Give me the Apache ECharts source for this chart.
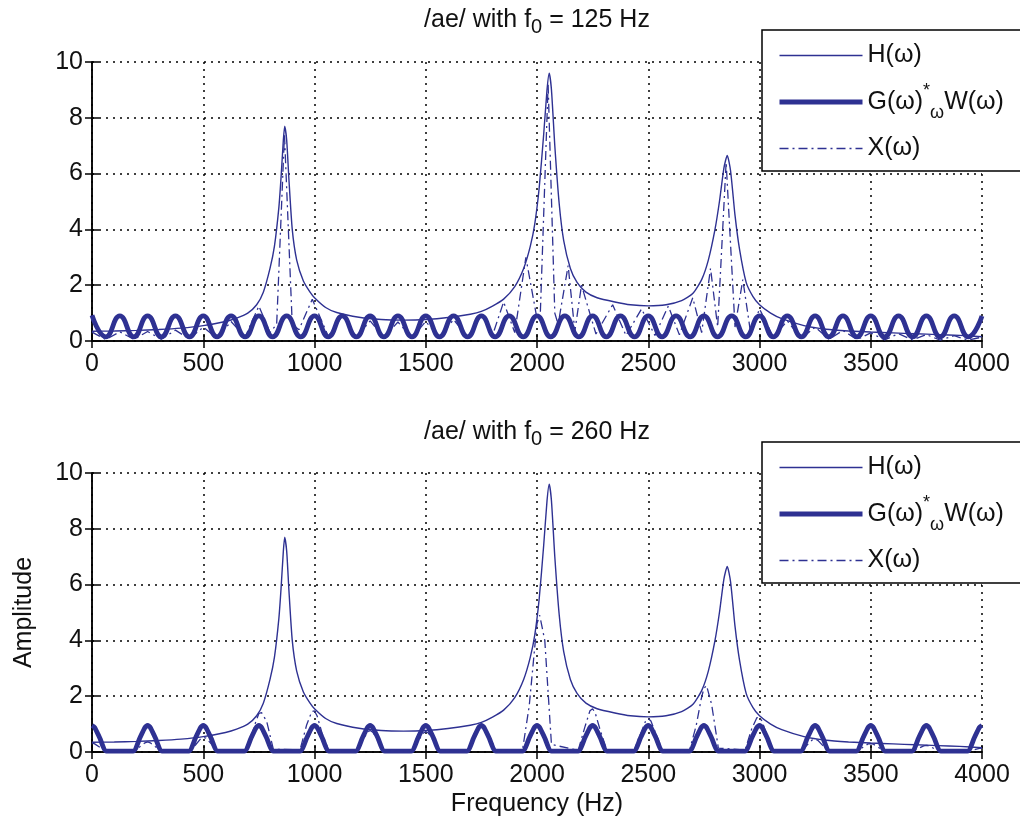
<!DOCTYPE html>
<html>
<head>
<meta charset="utf-8">
<script src="https://cdn.jsdelivr.net/npm/echarts@6/dist/echarts.min.js"></script>
<style>
  html, body { margin: 0; padding: 0; background: #fff; }
  #chart { width: 1020px; height: 826px; }
</style>
</head>
<body>
<div id="chart"></div>
<script>
// tick values
const xTicks = [0, 500, 1000, 1500, 2000, 2500, 3000, 3500, 4000];
const yTicks = [0, 2, 4, 6, 8, 10];

// H(w), the vocal tract response (same in both panels)
const hFreq = [0, 100, 200, 300, 400, 500, 600, 650, 700, 740, 770, 800, 820, 840, 850, 860,
  866, 875, 885, 900, 920, 950, 980, 1000, 1050, 1100, 1200, 1300, 1400, 1500, 1600,
  1700, 1750, 1800, 1850, 1900, 1940, 1970, 1990, 2010, 2030, 2045, 2055, 2065, 2080, 2100,
  2120, 2150, 2180, 2220, 2270, 2350, 2420, 2500, 2580, 2650, 2700, 2740, 2770, 2800, 2820,
  2840, 2855, 2870, 2890, 2910, 2940, 2970, 3000, 3050, 3100, 3200, 3300, 3400, 3500, 3600,
  3700, 3800, 3900, 4000];
const hVal = [0.35, 0.36, 0.38, 0.41, 0.46, 0.55, 0.7, 0.82, 1.0, 1.3, 1.75, 2.6, 3.4, 4.8, 5.9, 7.2,
  7.7, 7.2, 5.8, 4.0, 2.9, 2.15, 1.75, 1.55, 1.2, 1.02, 0.85, 0.77, 0.75, 0.77, 0.84,
  0.96, 1.06, 1.25, 1.5, 1.95, 2.6, 3.4, 4.2, 5.5, 7.4, 9.0, 9.6, 9.0, 7.0, 4.9,
  3.6, 2.6, 2.1, 1.75, 1.55, 1.4, 1.3, 1.26, 1.3, 1.45, 1.7, 2.2, 2.9, 4.0, 5.0,
  6.2, 6.65, 6.1, 4.5, 3.3, 2.1, 1.6, 1.3, 1.0, 0.8, 0.55, 0.42, 0.36, 0.32, 0.29,
  0.26, 0.23, 0.2, 0.15];

// top panel, f0 = 125 Hz : G(w)*W(w)
const gwTop = [[0, 0.92], [62, 0.15], [125, 0.9], [188, 0.15], [250, 0.9], [312, 0.15], [375, 0.9], [438, 0.15],
  [500, 0.9], [562, 0.15], [625, 0.9], [688, 0.15], [750, 0.9], [812, 0.15], [875, 0.9], [938, 0.15],
  [1000, 0.9], [1062, 0.15], [1125, 0.9], [1188, 0.15], [1250, 0.9], [1312, 0.15], [1375, 0.9], [1438, 0.15],
  [1500, 0.9], [1562, 0.15], [1625, 0.9], [1688, 0.15], [1750, 0.9], [1812, 0.15], [1875, 0.9], [1938, 0.15],
  [2000, 0.9], [2062, 0.15], [2125, 0.9], [2188, 0.15], [2250, 0.9], [2312, 0.15], [2375, 0.9], [2438, 0.15],
  [2500, 0.9], [2562, 0.15], [2625, 0.9], [2688, 0.15], [2750, 0.9], [2812, 0.15], [2875, 0.9], [2938, 0.15],
  [3000, 0.9], [3062, 0.15], [3125, 0.9], [3188, 0.15], [3250, 0.9], [3312, 0.15], [3375, 0.9], [3438, 0.15],
  [3500, 0.9], [3562, 0.15], [3625, 0.9], [3688, 0.15], [3750, 0.9], [3812, 0.15], [3875, 0.9], [3938, 0.15],
  [4000, 0.9]];

// top panel : X(w)
const xTop = [[0, 0.32], [62, 0.05], [125, 0.33], [188, 0.06], [250, 0.34], [312, 0.06], [375, 0.39], [438, 0.07],
  [500, 0.5], [562, 0.09], [625, 0.7], [688, 0.14], [750, 1.25], [800, 0.3], [830, 0.6], [865, 7.4],
  [900, 0.6], [930, 0.4], [990, 1.5], [1062, 0.17], [1125, 0.9], [1188, 0.13], [1250, 0.72], [1312, 0.12],
  [1375, 0.68], [1438, 0.11], [1500, 0.7], [1562, 0.12], [1625, 0.77], [1688, 0.14], [1750, 0.95], [1800, 0.2],
  [1850, 1.4], [1900, 0.3], [1950, 3.0], [2000, 0.8], [2015, 1.0], [2050, 9.2], [2080, 1.0], [2095, 0.6],
  [2140, 2.7], [2170, 0.35], [2200, 2.0], [2265, 0.25], [2340, 1.3], [2400, 0.2], [2470, 1.15], [2530, 0.2],
  [2590, 1.25], [2640, 0.22], [2700, 1.55], [2740, 0.3], [2780, 2.6], [2812, 0.5], [2850, 6.4], [2890, 0.5],
  [2925, 2.2], [2960, 0.3], [3000, 1.15], [3062, 0.15], [3125, 0.72], [3188, 0.08], [3250, 0.5], [3312, 0.06],
  [3375, 0.38], [3438, 0.05], [3500, 0.29], [3562, 0.04], [3625, 0.26], [3688, 0.04], [3750, 0.23], [3812, 0.03],
  [3875, 0.19], [3938, 0.03], [4000, 0.14]];

// bottom panel, f0 = 260 Hz : G(w)*W(w)
const gwBottom = [
  [0, 0.95], [12, 0.88], [35, 0.5], [65, 0.03],
  [185, 0.03], [215, 0.5], [238, 0.88], [250, 0.95], [262, 0.88], [285, 0.5], [315, 0.03],
  [435, 0.03], [465, 0.5], [488, 0.88], [500, 0.95], [512, 0.88], [535, 0.5], [565, 0.03],
  [685, 0.03], [715, 0.5], [738, 0.88], [750, 0.95], [762, 0.88], [785, 0.5], [815, 0.03],
  [935, 0.03], [965, 0.5], [988, 0.88], [1000, 0.95], [1012, 0.88], [1035, 0.5], [1065, 0.03],
  [1185, 0.03], [1215, 0.5], [1238, 0.88], [1250, 0.95], [1262, 0.88], [1285, 0.5], [1315, 0.03],
  [1435, 0.03], [1465, 0.5], [1488, 0.88], [1500, 0.95], [1512, 0.88], [1535, 0.5], [1565, 0.03],
  [1685, 0.03], [1715, 0.5], [1738, 0.88], [1750, 0.95], [1762, 0.88], [1785, 0.5], [1815, 0.03],
  [1935, 0.03], [1965, 0.5], [1988, 0.88], [2000, 0.95], [2012, 0.88], [2035, 0.5], [2065, 0.03],
  [2185, 0.03], [2215, 0.5], [2238, 0.88], [2250, 0.95], [2262, 0.88], [2285, 0.5], [2315, 0.03],
  [2435, 0.03], [2465, 0.5], [2488, 0.88], [2500, 0.95], [2512, 0.88], [2535, 0.5], [2565, 0.03],
  [2685, 0.03], [2715, 0.5], [2738, 0.88], [2750, 0.95], [2762, 0.88], [2785, 0.5], [2815, 0.03],
  [2935, 0.03], [2965, 0.5], [2988, 0.88], [3000, 0.95], [3012, 0.88], [3035, 0.5], [3065, 0.03],
  [3185, 0.03], [3215, 0.5], [3238, 0.88], [3250, 0.95], [3262, 0.88], [3285, 0.5], [3315, 0.03],
  [3435, 0.03], [3465, 0.5], [3488, 0.88], [3500, 0.95], [3512, 0.88], [3535, 0.5], [3565, 0.03],
  [3685, 0.03], [3715, 0.5], [3738, 0.88], [3750, 0.95], [3762, 0.88], [3785, 0.5], [3815, 0.03],
  [3935, 0.03], [3965, 0.5], [3988, 0.88], [4000, 0.95]];

// bottom panel : X(w)
const xBottom = [
  [0, 0.33], [12, 0.29], [35, 0.17], [65, 0.01],
  [185, 0.01], [215, 0.19], [238, 0.33], [250, 0.36], [262, 0.33], [285, 0.19], [315, 0.01],
  [435, 0.01], [465, 0.25], [488, 0.47], [500, 0.52], [512, 0.5], [535, 0.3], [565, 0.02],
  [685, 0.02], [715, 0.55], [738, 1.13], [750, 1.38], [762, 1.41], [785, 1.1], [815, 0.1],
  [935, 0.08], [965, 0.98], [988, 1.45], [1000, 1.47], [1012, 1.29], [1035, 0.65], [1065, 0.03],
  [1185, 0.02], [1215, 0.41], [1238, 0.71], [1250, 0.77], [1262, 0.71], [1285, 0.4], [1315, 0.02],
  [1435, 0.02], [1465, 0.38], [1488, 0.67], [1500, 0.73], [1512, 0.68], [1535, 0.39], [1565, 0.02],
  [1685, 0.03], [1715, 0.5], [1738, 0.91], [1750, 1.0], [1762, 0.97], [1785, 0.6], [1815, 0.04],
  [1935, 0.08], [1965, 1.65], [1988, 3.6], [2000, 4.6], [2012, 4.9], [2035, 4.0], [2065, 0.27],
  [2185, 0.06], [2215, 0.89], [2238, 1.48], [2250, 1.55], [2262, 1.39], [2285, 0.76], [2315, 0.04],
  [2435, 0.04], [2465, 0.64], [2488, 1.11], [2500, 1.2], [2512, 1.11], [2535, 0.64], [2565, 0.04],
  [2685, 0.05], [2715, 0.93], [2738, 1.9], [2750, 2.28], [2762, 2.38], [2785, 1.7], [2815, 0.14],
  [2935, 0.07], [2965, 0.83], [2988, 1.23], [3000, 1.24], [3012, 1.1], [3035, 0.55], [3065, 0.03],
  [3185, 0.02], [3215, 0.26], [3238, 0.44], [3250, 0.46], [3262, 0.42], [3285, 0.23], [3315, 0.01],
  [3435, 0.01], [3465, 0.17], [3488, 0.29], [3500, 0.3], [3512, 0.28], [3535, 0.16], [3565, 0.01],
  [3685, 0.01], [3715, 0.13], [3738, 0.22], [3750, 0.24], [3762, 0.22], [3785, 0.12], [3815, 0.01],
  [3935, 0.0], [3965, 0.08], [3988, 0.13], [4000, 0.14]];

const names = ['H(ω)', 'G(ω)*W(ω)', 'X(ω)'];
const blue = '#2e3192';
const font = 'Liberation Sans, Arial, Helvetica, sans-serif';
const dashDot = [9, 4, 2, 4];

const chart = echarts.init(document.getElementById('chart'));
const hData = hFreq.map((f, i) => [f, hVal[i]]);

function xAxisPair(gridIndex, withName) {
  return [
    {
      gridIndex: gridIndex, type: 'value', min: xTicks[0], max: xTicks[xTicks.length - 1], interval: 500,
      axisLine: { lineStyle: { color: '#000', width: 1.5 } },
      axisTick: { inside: true, length: 7, lineStyle: { color: '#000', width: 1.5 } },
      axisLabel: { color: '#111', fontSize: 25, fontFamily: font, margin: 11, formatter: v => String(v) },
      splitLine: { show: true, lineStyle: { color: '#000', type: [2, 5], width: 1.5 } },
      name: withName ? 'Frequency (Hz)' : '',
      nameLocation: 'middle', nameGap: 40,
      nameTextStyle: { color: '#111', fontSize: 25, fontFamily: font }
    },
    {
      gridIndex: gridIndex, type: 'value', position: 'top', min: 0, max: 4000, interval: 500,
      axisLine: { lineStyle: { color: '#000', width: 1.5 } },
      axisTick: { inside: true, length: 7, lineStyle: { color: '#000', width: 1.5 } },
      axisLabel: { show: false }, splitLine: { show: false }
    }
  ];
}

function yAxisPair(gridIndex, withName) {
  return [
    {
      gridIndex: gridIndex, type: 'value', min: yTicks[0], max: yTicks[yTicks.length - 1], interval: 2,
      axisLine: { show: true, lineStyle: { color: '#000', width: 1.5 } },
      axisTick: { show: true, inside: true, length: 7, lineStyle: { color: '#000', width: 1.5 } },
      axisLabel: { color: '#111', fontSize: 25, fontFamily: font, margin: 9 },
      splitLine: { show: true, lineStyle: { color: '#000', type: [2, 5], width: 1.5 } },
      name: withName ? 'Amplitude' : '',
      nameLocation: 'middle', nameGap: 55,
      nameTextStyle: { color: '#111', fontSize: 25, fontFamily: font }
    },
    {
      gridIndex: gridIndex, type: 'value', position: 'right', min: 0, max: 10, interval: 2,
      axisLine: { show: true, lineStyle: { color: '#000', width: 1.5 } },
      axisTick: { show: true, inside: true, length: 7, lineStyle: { color: '#000', width: 1.5 } },
      axisLabel: { show: false }, splitLine: { show: false }
    }
  ];
}

function seriesFor(axisIndex, gw, x) {
  return [
    {
      name: names[1], type: 'line', xAxisIndex: axisIndex, yAxisIndex: axisIndex,
      data: gw, symbol: 'none', smooth: axisIndex === 0 ? 0.5 : 0.2,
      lineStyle: { color: blue, width: 4.8 }, itemStyle: { color: blue }
    },
    {
      name: names[0], type: 'line', xAxisIndex: axisIndex, yAxisIndex: axisIndex,
      data: hData, symbol: 'none', smooth: 0.2,
      lineStyle: { color: blue, width: 1.4 }, itemStyle: { color: blue }
    },
    {
      name: names[2], type: 'line', xAxisIndex: axisIndex, yAxisIndex: axisIndex,
      data: x, symbol: 'none',
      lineStyle: { color: blue, width: 1.3, type: dashDot }, itemStyle: { color: blue }
    }
  ];
}

function legendAt(top) {
  return {
    data: [
      { name: names[0], lineStyle: { width: 1.6 } },
      { name: names[1], lineStyle: { width: 5 } },
      { name: names[2], lineStyle: { width: 1.6, type: dashDot } }
    ],
    orient: 'vertical', left: 762, top: top,
    backgroundColor: '#fff', borderColor: '#000', borderWidth: 1.5,
    padding: [13, 60, 10, 15], itemGap: 14, itemWidth: 83, itemHeight: 14,
    itemStyle: { opacity: 0, borderWidth: 0 },
    formatter: function (n) {
      return n === names[1] ? 'G(ω){sup|*}{sub|ω}W(ω)' : n;
    },
    textStyle: {
      color: '#111', fontSize: 25, fontFamily: font,
      rich: {
        sup: { fontSize: 18, fontFamily: font, color: '#111', verticalAlign: 'top', padding: [0, 0, 6, 0] },
        sub: { fontSize: 18, fontFamily: font, color: '#111', verticalAlign: 'bottom', padding: [22, 0, 0, 0] }
      }
    }
  };
}

const titleRich = {
  sub: { fontSize: 20, fontFamily: font, color: '#111', verticalAlign: 'bottom', padding: [14, 0, 0, 0] }
};

let options = {
  animation: false,
  backgroundColor: '#fff',
  title: [
    { text: '/ae/ with f{sub|0} = 125 Hz', left: 532, top: -2, textAlign: 'center',
      textStyle: { color: '#111', fontSize: 25, fontWeight: 'normal', fontFamily: font, rich: titleRich } },
    { text: '/ae/ with f{sub|0} = 260 Hz', left: 532, top: 410, textAlign: 'center',
      textStyle: { color: '#111', fontSize: 25, fontWeight: 'normal', fontFamily: font, rich: titleRich } }
  ],
  legend: [legendAt(30), legendAt(442)],
  grid: [
    { left: 92, right: 38, top: 62, height: 279 },
    { left: 92, right: 38, top: 473, height: 279 }
  ],
  xAxis: xAxisPair(0, false).concat(xAxisPair(1, true)),
  yAxis: yAxisPair(0, false).concat(yAxisPair(1, true)),
  series: seriesFor(0, gwTop, xTop).concat(seriesFor(2, gwBottom, xBottom))
};

chart.setOption(options);
window.onresize = () => {
  chart.resize();
};
</script>
</body>
</html>
